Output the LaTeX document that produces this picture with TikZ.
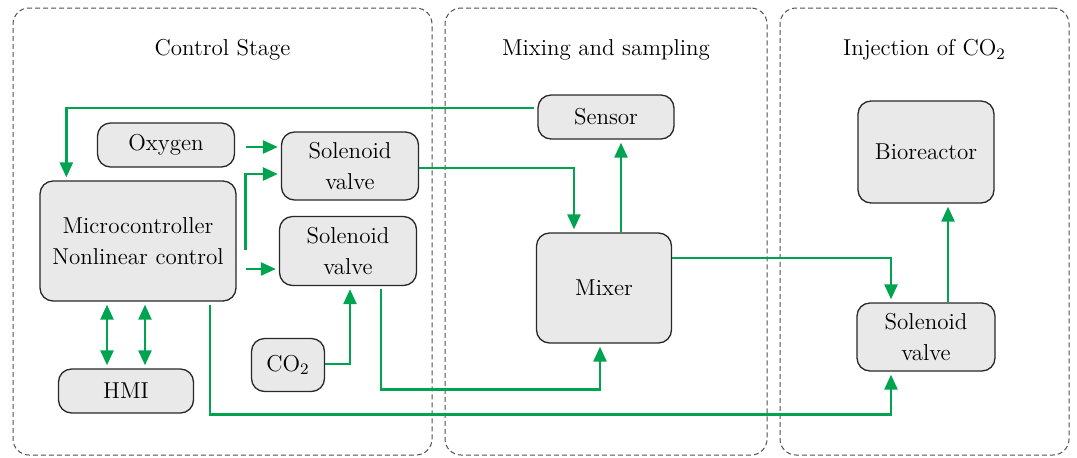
\documentclass[tikz,border=0pt]{standalone}
\usepackage{amsmath}
\usepackage{xcolor}
\usepackage{tikz}
\usetikzlibrary{positioning,arrows.meta,calc}
\definecolor{cflow}{RGB}{0,163,80}
\definecolor{cbox}{RGB}{232,233,232}
\definecolor{cedge}{RGB}{40,40,40}
\definecolor{cstage}{RGB}{80,80,80}

\begin{document}
\begin{tikzpicture}[
  x=0.5pt,y=-0.5pt,
  font=\fontsize{11.5}{15.5}\selectfont,
  blk/.style={draw=cedge,fill=cbox,line width=0.65pt,rounded corners=6.5pt,align=center,inner sep=0pt},
  stage/.style={draw=cstage,dash pattern=on 2.5pt off 1.5pt,line width=0.5pt,rounded corners=8pt,inner sep=0pt},
  ttl/.style={anchor=center},
  flow/.style={-{Triangle[length=7.5pt,width=6.5pt]},cflow,line width=1.25pt,shorten >=1.5pt,shorten <=1.5pt},
  both/.style={{Triangle[length=7.5pt,width=6.5pt]}-{Triangle[length=7.5pt,width=6.5pt]},cflow,line width=1.25pt,shorten >=1.5pt,shorten <=1.5pt},
]
\useasboundingbox (0,0) rectangle (1077,457);

% =========== the three stages ==============================================
\node[stage,minimum width=209.5pt,minimum height=223.5pt] (stgA) at (222.5,231.5) {};
\node[stage,minimum width=161pt,minimum height=223.5pt]   (stgB) at (606,231.5) {};
\node[stage,minimum width=144.5pt,minimum height=223.5pt] (stgC) at (924.5,231.5) {};
\node[ttl,below=12.5pt of stgA.north] (tA) {Control Stage};
\node[ttl,below=12.5pt of stgB.north] (tB) {Mixing and sampling};
\node[ttl,below=12.5pt of stgC.north] (tC) {Injection of CO$_2$};

% =========== control stage =================================================
\node[blk,minimum width=98pt,minimum height=60pt]   (mcu) at (138,241) {Microcontroller\\Nonlinear control};
\node[blk,minimum width=68.5pt,minimum height=22pt] (oxy) at (166,145) {Oxygen};
\node[blk,minimum width=68.5pt,minimum height=34pt] (sv1) at (350,166) {Solenoid\\valve};
\node[blk,minimum width=68.5pt,minimum height=34.5pt] (sv2) at (348,251) {Solenoid\\valve};
\node[blk,minimum width=67.5pt,minimum height=22pt] (hmi) at (126,391) {HMI};
\node[blk,minimum width=36.5pt,minimum height=26.5pt] (co2) at (288,365) {CO$_2$};

% =========== mixing and sampling ===========================================
\node[blk,minimum width=68pt,minimum height=22pt]   (sensor) at (606,117) {Sensor};
\node[blk,minimum width=67.5pt,minimum height=55pt] (mixer)  at (604,288) {Mixer};

% =========== injection =====================================================
\node[blk,minimum width=68pt,minimum height=51pt] (bio) at (926,152) {Bioreactor};
\node[blk,minimum width=69pt,minimum height=34pt] (sv3) at (926,337) {Solenoid\\valve};

% =========== connectors ====================================================
\draw[flow] ([yshift=4.5pt]sensor.west) -| ([xshift=13.5pt]mcu.north west);
\draw[flow,shorten <=5.5pt] ([yshift=-1pt]oxy.east) -- ([yshift=-1pt]sv1.west |- oxy.east);
\draw[flow,shorten <=0pt] ([xshift=4.5pt,yshift=-4.5pt]mcu.east) |- ([yshift=-4pt]sv1.west);
\draw[flow,shorten <=4.5pt] ([yshift=-14pt]mcu.east) -- ([yshift=-14pt]sv2.west |- mcu.east);
\draw[flow,shorten <=0pt] ([yshift=0.5pt]co2.east) -| ([xshift=1pt]sv2.south);
\draw[flow] ([xshift=16.5pt]sv2.south) -- ++(0,-51.75pt) -| ([xshift=-2pt]mixer.south);
\draw[flow] ([xshift=36pt]mcu.south) -- ++(0,-56.5pt) -| ([xshift=-17.5pt]sv3.south);
\draw[flow,shorten <=0pt] ([yshift=-1pt]sv1.east) -| ([xshift=-15pt]mixer.north);
\draw[flow,shorten <=0pt] ([xshift=8.5pt]mixer.north) -- ([xshift=8.5pt]mixer.north |- sensor.south);
\draw[flow,shorten <=0pt] ([yshift=15pt]mixer.east) -| ([xshift=-17.5pt]sv3.north);
\draw[flow,shorten <=0pt] ([xshift=11pt]sv3.north) -- ([xshift=11pt]sv3.north |- bio.south);
\foreach \dx in {-15.5,3.5}{
  \draw[both] ([xshift=\dx pt]mcu.south) -- ([xshift=\dx pt]mcu.south |- hmi.north);
}

\end{tikzpicture}
\end{document}
